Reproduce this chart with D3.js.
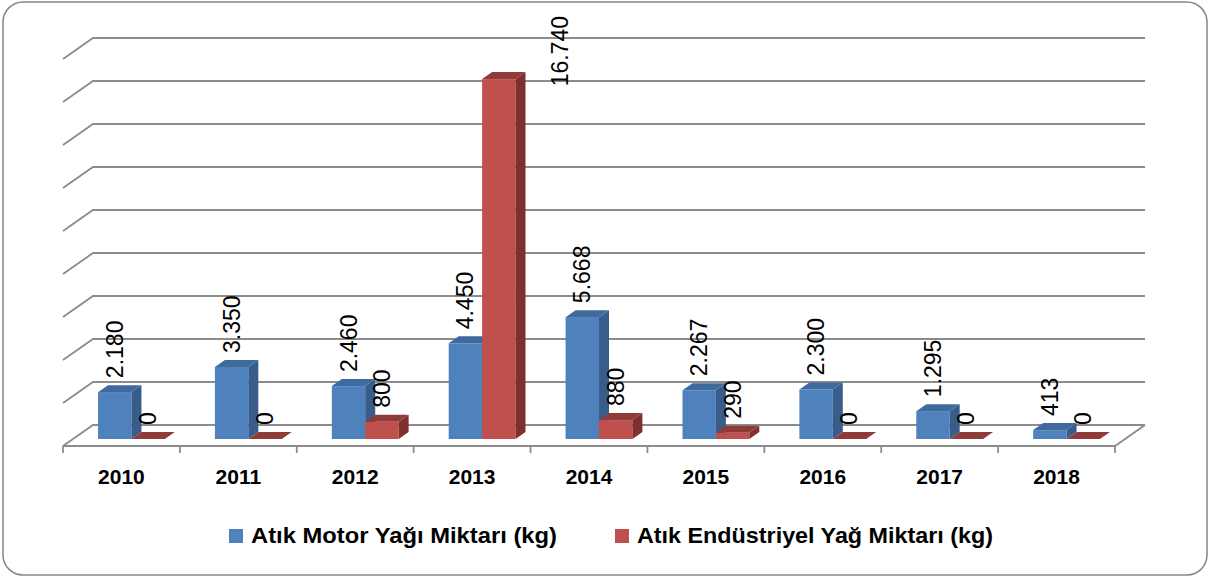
<!DOCTYPE html>
<html>
<head>
<meta charset="utf-8">
<script src="https://cdn.jsdelivr.net/npm/d3@7"></script>
<style>
  body { margin: 0; background: #fff; }
  svg { display: block; }
</style>
</head>
<body>
<svg id="chart"></svg>
<script>
const width = 1215;
const height = 581;

// veriler
const years = ["2010", "2011", "2012", "2013", "2014", "2015", "2016", "2017", "2018"];
const motorOil = [2180, 3350, 2460, 4450, 5668, 2267, 2300, 1295, 413];
const industrialOil = [0, 0, 800, 16740, 880, 290, 0, 0, 0];
const seriesNames = ["Atık Motor Yağı Miktarı (kg)", "Atık Endüstriyel Yağ Miktarı (kg)"];
const yTicks = [0, 2000, 4000, 6000, 8000, 10000, 12000, 14000, 16000, 18000];

const colors = [
  { front: "#4f81bd", side: "#385d8a", top: "#3e6a9e" },
  { front: "#c0504d", side: "#7f302e", top: "#8f3b39" }
];

const trLocale = d3.formatLocale({ decimal: ",", thousands: ".", grouping: [3], currency: ["", ""] });
const fmt = trLocale.format(",d");

const svg = d3.select("#chart")
  .attr("width", width)
  .attr("height", height);

// çerçeve
svg.append("rect")
  .attr("x", 3).attr("y", 2)
  .attr("width", 1204).attr("height", 573)
  .attr("rx", 20)
  .attr("fill", "#fff")
  .attr("stroke", "#868686")
  .attr("stroke-width", 1.5);

// 3B geometri
const left = 63, right = 1115;
const depthX = 30, depthY = -21;
const x = d3.scaleBand().domain(years).range([left, right]).padding(0);
const xs = d3.scaleBand().domain([0, 1]).range([0, x.bandwidth()]).paddingInner(0).paddingOuter(0.75);
const y = d3.scaleLinear().domain([0, 18000]).range([446, 59]);

const grid = svg.append("g")
  .attr("fill", "none")
  .attr("stroke", "#8c8c8c")
  .attr("stroke-width", 1.8);

grid.selectAll("path.grid")
  .data(yTicks)
  .enter()
  .append("path")
  .attr("class", "grid")
  .attr("d", d => `M${left},${y(d)}L${left + depthX},${y(d) + depthY}L${right + depthX},${y(d) + depthY}`);

// zemin ön ve sağ kenarı
grid.append("path")
  .attr("d", `M${left},${y(0)}L${right},${y(0)}L${right + depthX},${y(0) + depthY}`);

// x ekseni çentikleri
const tickPos = years.map(d => x(d)).concat([right]);
grid.selectAll("line.tick")
  .data(tickPos)
  .enter()
  .append("line")
  .attr("class", "tick")
  .attr("x1", d => d).attr("x2", d => d)
  .attr("y1", y(0)).attr("y2", y(0) + 7);

// çubuklar
const fx = depthX / 3, fy = depthY / 3;
const bars = [];
years.forEach((yr, i) => {
  [motorOil[i], industrialOil[i]].forEach((v, s) => {
    const x0 = x(yr) + xs(s) + fx;
    const x1 = x0 + xs.bandwidth();
    const yb = y(0) + fy;
    const yt = y(v) + fy;
    bars.push({ yr, s, v, x0, x1, yb, yt });
  });
});

const barG = svg.append("g");
const bar = barG.selectAll("g.bar")
  .data(bars)
  .enter()
  .append("g")
  .attr("class", "bar");

bar.append("rect")
  .attr("x", d => d.x0)
  .attr("y", d => d.yt)
  .attr("width", d => d.x1 - d.x0)
  .attr("height", d => d.yb - d.yt)
  .attr("fill", d => colors[d.s].front);

bar.append("path")
  .attr("d", d => `M${d.x1},${d.yb}L${d.x1 + fx},${d.yb + fy}L${d.x1 + fx},${d.yt + fy}L${d.x1},${d.yt}Z`)
  .attr("fill", d => colors[d.s].side);

bar.append("path")
  .attr("d", d => `M${d.x0},${d.yt}L${d.x0 + fx},${d.yt + fy}L${d.x1 + fx},${d.yt + fy}L${d.x1},${d.yt}Z`)
  .attr("fill", d => colors[d.s].top);

// veri etiketleri
const labelSize = 23;
const labels = svg.append("g")
  .attr("font-family", "'Liberation Sans', Arial, sans-serif")
  .attr("font-size", labelSize)
  .attr("fill", "#000");

labels.selectAll("text")
  .data(bars)
  .enter()
  .append("text")
  .text(d => fmt(d.v))
  .attr("dominant-baseline", "central")
  .attr("text-anchor", "start")
  .each(function(d) {
    const len = this.getComputedTextLength();
    let cx = (d.x0 + d.x1) / 2;
    let base = d.yt + fy - 7;
    if (base - len < 14) {
      // sığmıyorsa çubuğun sağına yaz
      cx = d.x1 + fx + 34;
      base = 14 + len + 2;
    }
    d3.select(this).attr("transform", `translate(${cx},${base}) rotate(-90)`);
  });

// kategori etiketleri
svg.append("g")
  .attr("font-family", "'Liberation Sans', Arial, sans-serif")
  .attr("font-size", 21)
  .attr("font-weight", "bold")
  .attr("text-anchor", "middle")
  .selectAll("text")
  .data(years)
  .enter()
  .append("text")
  .attr("x", d => x(d) + x.bandwidth() / 2)
  .attr("y", 484)
  .text(d => d);

// lejant
const legendItems = [
  { name: seriesNames[0], sx: 229, tx: 251, tw: 306 },
  { name: seriesNames[1], sx: 615, tx: 637, tw: 356 }
];
const legend = svg.append("g")
  .attr("font-family", "'Liberation Sans', Arial, sans-serif")
  .attr("font-size", 22)
  .attr("font-weight", "bold");

legend.selectAll("rect")
  .data(legendItems)
  .enter()
  .append("rect")
  .attr("x", d => d.sx)
  .attr("y", 529)
  .attr("width", 14)
  .attr("height", 14)
  .attr("fill", (d, i) => colors[i].front);

legend.selectAll("text")
  .data(legendItems)
  .enter()
  .append("text")
  .attr("x", d => d.tx)
  .attr("y", 543)
  .attr("textLength", d => d.tw)
  .attr("lengthAdjust", "spacingAndGlyphs")
  .text(d => d.name);
</script>
</body>
</html>
